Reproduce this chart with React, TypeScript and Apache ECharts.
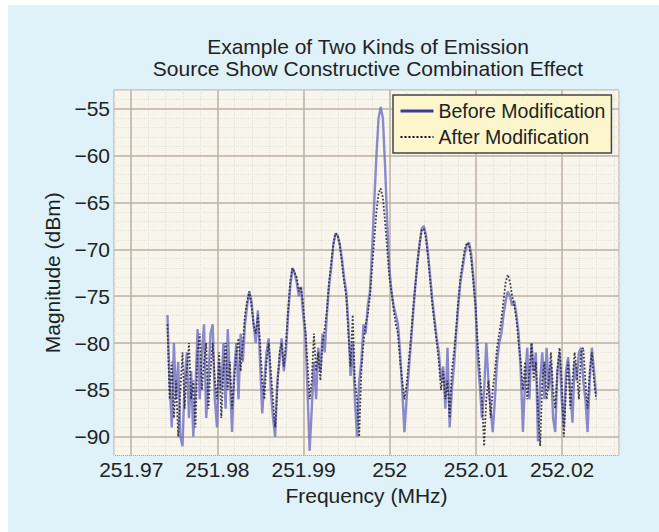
import React, { useEffect, useRef } from "react";
import * as echarts from "echarts";

const TITLE_LINES = ["Example of Two Kinds of Emission", "Source Show Constructive Combination Effect"];
const X_NAME = "Frequency (MHz)";
const Y_NAME = "Magnitude (dBm)";
const SERIES_NAMES = ["Before Modification", "After Modification"];

const X_TICKS = [251.97, 251.98, 251.99, 252, 252.01, 252.02];
const Y_TICKS = [-90, -85, -80, -75, -70, -65, -60, -55];

// uniform analyzer sweep
const FREQ_START = 251.9742;
const FREQ_STEP = 0.00025;

const beforeValues = [
  -77, -84, -89, -80, -86, -82, -90, -91, -84, -81,
  -88, -83, -90, -85, -78.5, -86, -81, -78, -88, -84,
  -79, -78, -86, -89, -82, -85, -80, -87, -78.5, -84,
  -89.5, -83, -80, -86, -79, -82, -78, -76, -74.5, -75.5,
  -78, -80, -76.5, -82, -87.5, -84, -81, -79.5, -85, -88,
  -90, -84, -82, -79.5, -83, -81, -77, -74, -72, -72.5,
  -73.5, -75, -74, -77, -79, -85, -91.5, -87, -82, -86,
  -80.5, -83, -79, -81, -77, -74, -72, -69.5, -68.3, -68.5,
  -69.5, -71, -73, -74.5, -78, -83.5, -80, -86, -90, -84,
  -82, -78, -79, -76, -74.5, -70, -65, -60, -56, -54.8,
  -56, -61, -67, -72, -74.5, -76, -77, -78, -81, -85,
  -89.5, -86, -83, -80, -77, -74, -71.5, -69.5, -67.8, -67.5,
  -68.5, -70.5, -73, -75.5, -77.5, -79.5, -81, -84, -82.5, -87,
  -80.5, -89, -85, -82.5, -79, -76, -73.5, -72, -70.5, -69.5,
  -69.3, -70.5, -73, -76, -81.5, -84.5, -88, -85, -80, -84,
  -87, -89.5, -86, -82, -80, -79, -77, -75.5, -74.5, -75,
  -76, -75.5, -77, -79, -83, -89.5, -84, -80.5, -86, -80,
  -83, -81, -90.5, -84, -81, -86, -80.5, -85, -82, -88,
  -89.5, -83, -81, -86, -89, -83, -81.5, -85, -88.5, -82,
  -84, -81, -80.5, -84, -86, -89.5, -84, -80.5, -83, -85.5,
];

const afterValues = [
  -78, -86, -82, -88, -84, -90, -85, -81, -87, -83,
  -80, -86, -84, -89, -81, -79, -85, -82, -80, -87,
  -83, -80, -84, -86, -81, -88, -83, -80, -85, -82,
  -87, -84, -81, -79.5, -83, -80, -77, -75.5, -74.5, -76,
  -78, -79, -77, -80, -84, -86, -82, -80, -83, -86,
  -89, -85, -81, -80, -82.5, -80, -76.5, -73.5, -72, -72.5,
  -73, -74.5, -74, -76, -78.5, -82, -86, -84, -79, -83,
  -81, -84, -80, -78.5, -76.5, -73.5, -71.5, -69.5, -68.3, -68.5,
  -69.5, -71.5, -73.5, -75, -79, -82.5, -77, -84, -86, -90,
  -83, -80, -78, -77, -75, -72, -69, -66, -64, -63.5,
  -64.5, -67, -70, -73, -74.5, -76.5, -78, -79, -82, -84,
  -86, -84.5, -82, -79.5, -76.5, -74, -71.5, -69.5, -68, -67.8,
  -68.8, -71, -73.5, -76, -78, -80, -82, -85, -83, -86,
  -84, -88, -83, -81, -78.5, -75.5, -73, -71.5, -70, -69.3,
  -69.5, -71, -73.5, -76, -80, -83, -86, -91, -86, -84,
  -88, -85, -83, -80.5, -79, -77.5, -75.5, -73.5, -72.7, -73.5,
  -75, -76, -77.5, -80, -82, -85, -82, -86, -83, -80,
  -84, -82, -87, -91, -84, -82, -86, -84, -81, -85,
  -87, -83, -80.5, -84, -90, -85, -82, -87, -84, -81,
  -83, -86, -81, -80.5, -84, -87, -83, -81, -84, -86,
];

const toPairs = (vals: number[]) =>
  vals.map((v, i) => [Number((FREQ_START + i * FREQ_STEP).toFixed(6)), v]);

const FONT = "'Liberation Sans', Arial, Helvetica, sans-serif";
const TEXT_COLOR = "#222222";

export default function App() {
  const ref = useRef<HTMLDivElement>(null);

  useEffect(() => {
    if (!ref.current) return;
    const chart = echarts.init(ref.current, null, { renderer: "svg" });
    const xMin = 251.968;
    const xMax = 252.0266;
    const yMin = -92;
    const yMax = -53;
    const majorLine = { show: true, lineStyle: { color: "#bdb2a6", width: 1.5 } };
    const minorLine = { show: true, lineStyle: { color: "#e6e0d4", width: 1, type: "dotted" } };

    chart.setOption({
      animation: false,
      backgroundColor: "#ffffff",
      textStyle: { fontFamily: FONT },
      graphic: [
        {
          type: "rect",
          z: -100,
          silent: true,
          shape: { x: 8, y: 5, width: 651, height: 527 },
          style: { fill: "#dff2fa" },
        },
      ],
      title: {
        text: TITLE_LINES.join("\n"),
        left: 368,
        top: 35,
        padding: 0,
        textAlign: "center",
        textStyle: {
          fontFamily: FONT,
          fontSize: 21,
          fontWeight: "normal",
          color: TEXT_COLOR,
          lineHeight: 22,
        },
      },
      legend: {
        orient: "vertical",
        left: 393,
        top: 95,
        padding: [4, 6, 4, 6],
        itemGap: 2,
        itemWidth: 33,
        itemHeight: 14,
        backgroundColor: "#fdf6cc",
        borderColor: "#444444",
        borderWidth: 1.5,
        borderRadius: 0,
        textStyle: { fontFamily: FONT, fontSize: 19.5, color: TEXT_COLOR, lineHeight: 24 },
        data: [
          {
            name: SERIES_NAMES[0],
            itemStyle: { opacity: 0 },
            lineStyle: { color: "#3b3b9c", width: 3, type: "solid", opacity: 1 },
          },
          {
            name: SERIES_NAMES[1],
            itemStyle: { opacity: 0 },
            lineStyle: { color: "#111111", width: 2, type: "dotted", opacity: 1 },
          },
        ],
      },
      grid: {
        left: 114,
        top: 90,
        width: 505,
        height: 365.5,
        show: true,
        backgroundColor: "#f8f6ec",
        borderColor: "#a8a8a8",
        borderWidth: 1,
      },
      xAxis: [
        {
          type: "value",
          min: xMin,
          max: xMax,
          name: X_NAME,
          nameLocation: "middle",
          nameGap: 29,
          nameTextStyle: { fontFamily: FONT, fontSize: 21, color: TEXT_COLOR },
          axisLine: { show: false },
          axisTick: { show: false, customValues: X_TICKS },
          axisLabel: {
            customValues: X_TICKS,
            fontFamily: FONT,
            fontSize: 21,
            color: TEXT_COLOR,
            margin: 3,
            formatter: (v: number) => String(Number(v.toFixed(4))),
          },
          splitLine: majorLine,
          z: 3,
        },
        {
          type: "value",
          min: xMin,
          max: xMax,
          interval: 0.002,
          axisLine: { show: false },
          axisTick: { show: false },
          axisLabel: { show: false },
          splitLine: minorLine,
        },
      ],
      yAxis: [
        {
          type: "value",
          min: yMin,
          max: yMax,
          name: Y_NAME,
          nameLocation: "middle",
          nameGap: 40,
          nameTextStyle: { fontFamily: FONT, fontSize: 21, color: TEXT_COLOR },
          axisLine: { show: false },
          axisTick: { show: false, customValues: Y_TICKS },
          axisLabel: {
            customValues: Y_TICKS,
            fontFamily: FONT,
            fontSize: 21,
            color: TEXT_COLOR,
            margin: 4,
            formatter: (v: number) => String(v).replace("-", "\u2212"),
          },
          splitLine: majorLine,
          z: 3,
        },
        {
          type: "value",
          min: yMin,
          max: yMax,
          interval: 1,
          axisLine: { show: false },
          axisTick: { show: false },
          axisLabel: { show: false },
          splitLine: minorLine,
        },
      ],
      series: [
        {
          name: SERIES_NAMES[0],
          type: "line",
          xAxisIndex: 0,
          yAxisIndex: 0,
          data: toPairs(beforeValues),
          symbol: "none",
          showSymbol: false,
          color: "#6e6ec4",
          lineStyle: { color: "#6e6ec4", width: 2.4, opacity: 0.8 },
          z: 4,
        },
        {
          name: SERIES_NAMES[1],
          type: "line",
          xAxisIndex: 0,
          yAxisIndex: 0,
          data: toPairs(afterValues),
          symbol: "none",
          showSymbol: false,
          color: "#2a2a36",
          lineStyle: { color: "#2a2a36", width: 1.8, type: "dotted", opacity: 0.9 },
          z: 5,
        },
      ],
    });
    return () => chart.dispose();
  }, []);

  return (
    <div
      ref={ref}
      style={{ position: "fixed", left: 0, top: 0, width: 659, height: 532 }}
    />
  );
}
